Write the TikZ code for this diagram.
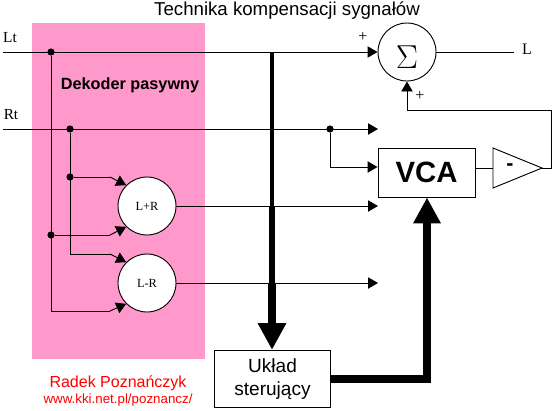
\documentclass[tikz,border=0pt]{standalone}
\usepackage{fontspec}
\setmainfont{Liberation Serif}
\setsansfont{Liberation Sans}
\usetikzlibrary{arrows.meta}
\definecolor{dekoder}{RGB}{255,153,204}
\tikzset{
    wire/.style={line width=0.7pt},
    wirearrow/.style={wire,-{Triangle[length=7.5pt,width=8.5pt]}},
    blockcircle/.style={circle,draw,fill=white,line width=0.7pt,minimum size=43.5pt,inner sep=0pt},
    blockbox/.style={rectangle,draw,fill=white,line width=0.7pt,inner sep=0pt},
    junction/.style={circle,fill=black,inner sep=0pt,minimum size=5.4pt},
    signal/.style={font=\fontsize{12}{14}\selectfont}
}
\begin{document}
\begin{tikzpicture}[x=0.75pt,y=-0.75pt]
    \useasboundingbox (0,0) rectangle (555,410);

    % Decoder background
    \fill[dekoder] (32,23) rectangle (205,359);

    % Title and decoder label
    \node[font=\sffamily\fontsize{14}{16}\selectfont] (title) at (287,11) {Technika kompensacji sygnałów};
    \node[font=\sffamily\bfseries\fontsize{12.2}{14}\selectfont] (dekoder) at (130,85) {Dekoder pasywny};

    % Blocks
    \node[blockcircle] (sum) at (407,52) {};
    \node[font=\fontsize{26}{28}\selectfont] (sigma) at (407,57) {$\Sigma$};
    \node[blockcircle,font=\fontsize{9.3}{11}\selectfont] (lplus) at (147,206) {L+R};
    \node[blockcircle,font=\fontsize{9.3}{11}\selectfont] (lminus) at (147,283) {L-R};
    \node[blockbox,minimum width=72.75pt,minimum height=36.75pt,font=\sffamily\bfseries\fontsize{22}{24}\selectfont] (vca) at (426.5,172.5) {VCA};
    \node[blockbox,minimum width=87pt,minimum height=43pt,align=center,font=\sffamily\fontsize{14.3}{17}\selectfont] (uklad) at (272.5,379) {Układ\\sterujący};

    % Inverter triangle
    \coordinate (invin) at (493,168);
    \coordinate (invtip) at (542,168);
    \draw[wire,fill=white] (493,148) -- (invtip) -- (493,188) -- cycle;
    \node[font=\sffamily\bfseries\fontsize{16}{16}\selectfont] (minus) at (510,167) {-};

    % Free ends of the signal lines
    \coordinate (ltin) at (3,52);
    \coordinate (rtin) at (3,129);
    \coordinate (rtout) at (378,129);
    \coordinate (lplusout) at (378,206);
    \coordinate (lminusout) at (378,283);
    \coordinate (lout) at (514,52);

    % Junctions
    \node[junction] (jlt) at (51,52) {};
    \node[junction] (jrt) at (70,129) {};
    \node[junction] (jrtb) at (70,177) {};
    \node[junction] (jltb) at (51,235) {};
    \node[junction] (jvca) at (330,129) {};

    % Thick arrow into the control block, it gets wider on the way down
    \coordinate (tap) at (272,52);
    \coordinate (tapb) at (272,129);
    \coordinate (tapc) at (272,206);
    \coordinate (tapd) at (272,283);
    \draw[line width=2.6pt] (tap) -- (tapb);
    \draw[line width=3.2pt] (tapb) -- (tapc);
    \draw[line width=4.5pt] (tapc) -- (tapd);
    \draw[line width=6pt,-{Triangle[length=20pt,width=20pt,sep=0pt]}] (tapd) -- (uklad.north -| tapd);

    % Thick arrow from the control block to VCA
    \draw[line width=5.6pt,-{Triangle[length=19.5pt,width=19.5pt]}] (uklad.east |- 0,379) -| (vca.south -| 427,0);

    % Lines of the decoder
    \draw[wirearrow] (ltin) -- (sum.west);
    \draw[wire] (sum.east) -- (lout);
    \draw[wirearrow] (rtin) -- (rtout);
    \draw[wire] (jlt) -- (51,311) -- (110,311);
    \draw[wirearrow] (110,311) -- (lminus.south west);
    \draw[wire] (jrt) -- (70,254) -- (110,254);
    \draw[wirearrow] (110,254) -- (lminus.north west);
    \draw[wire] (jrtb) -- (110,177);
    \draw[wirearrow] (110,177) -- (lplus.north west);
    \draw[wire] (jltb) -- (110,235);
    \draw[wirearrow] (110,235) -- (lplus.south west);
    \draw[wirearrow] (lplus.east) -- (lplusout);
    \draw[wirearrow] (lminus.east) -- (lminusout);

    % VCA path and feedback
    \draw[wirearrow] (jvca) |- (vca.west |- 0,167);
    \draw[wire] (vca.east |- invin) -- (invin);
    \draw[wirearrow] (invtip) -- (551,168) -- (551,110) -- (407,110) -- (sum.south);

    % Signal labels
    \node[font=\fontsize{11.5}{13}\selectfont] (lt) at (10,38) {Lt};
    \node[font=\fontsize{11.5}{13}\selectfont] (rt) at (11,115) {Rt};
    \node[signal] (lname) at (527,49) {L};
    \node[signal] (plusa) at (363,37) {+};
    \node[signal] (plusb) at (420,96) {+};

    % Author
    \node[red,font=\sffamily\fontsize{12}{14}\selectfont] (autor) at (118,383) {Radek Poznańczyk};
    \node[red,font=\sffamily\fontsize{10}{12}\selectfont] (adres) at (118,400) {www.kki.net.pl/poznancz/};
\end{tikzpicture}
\end{document}
